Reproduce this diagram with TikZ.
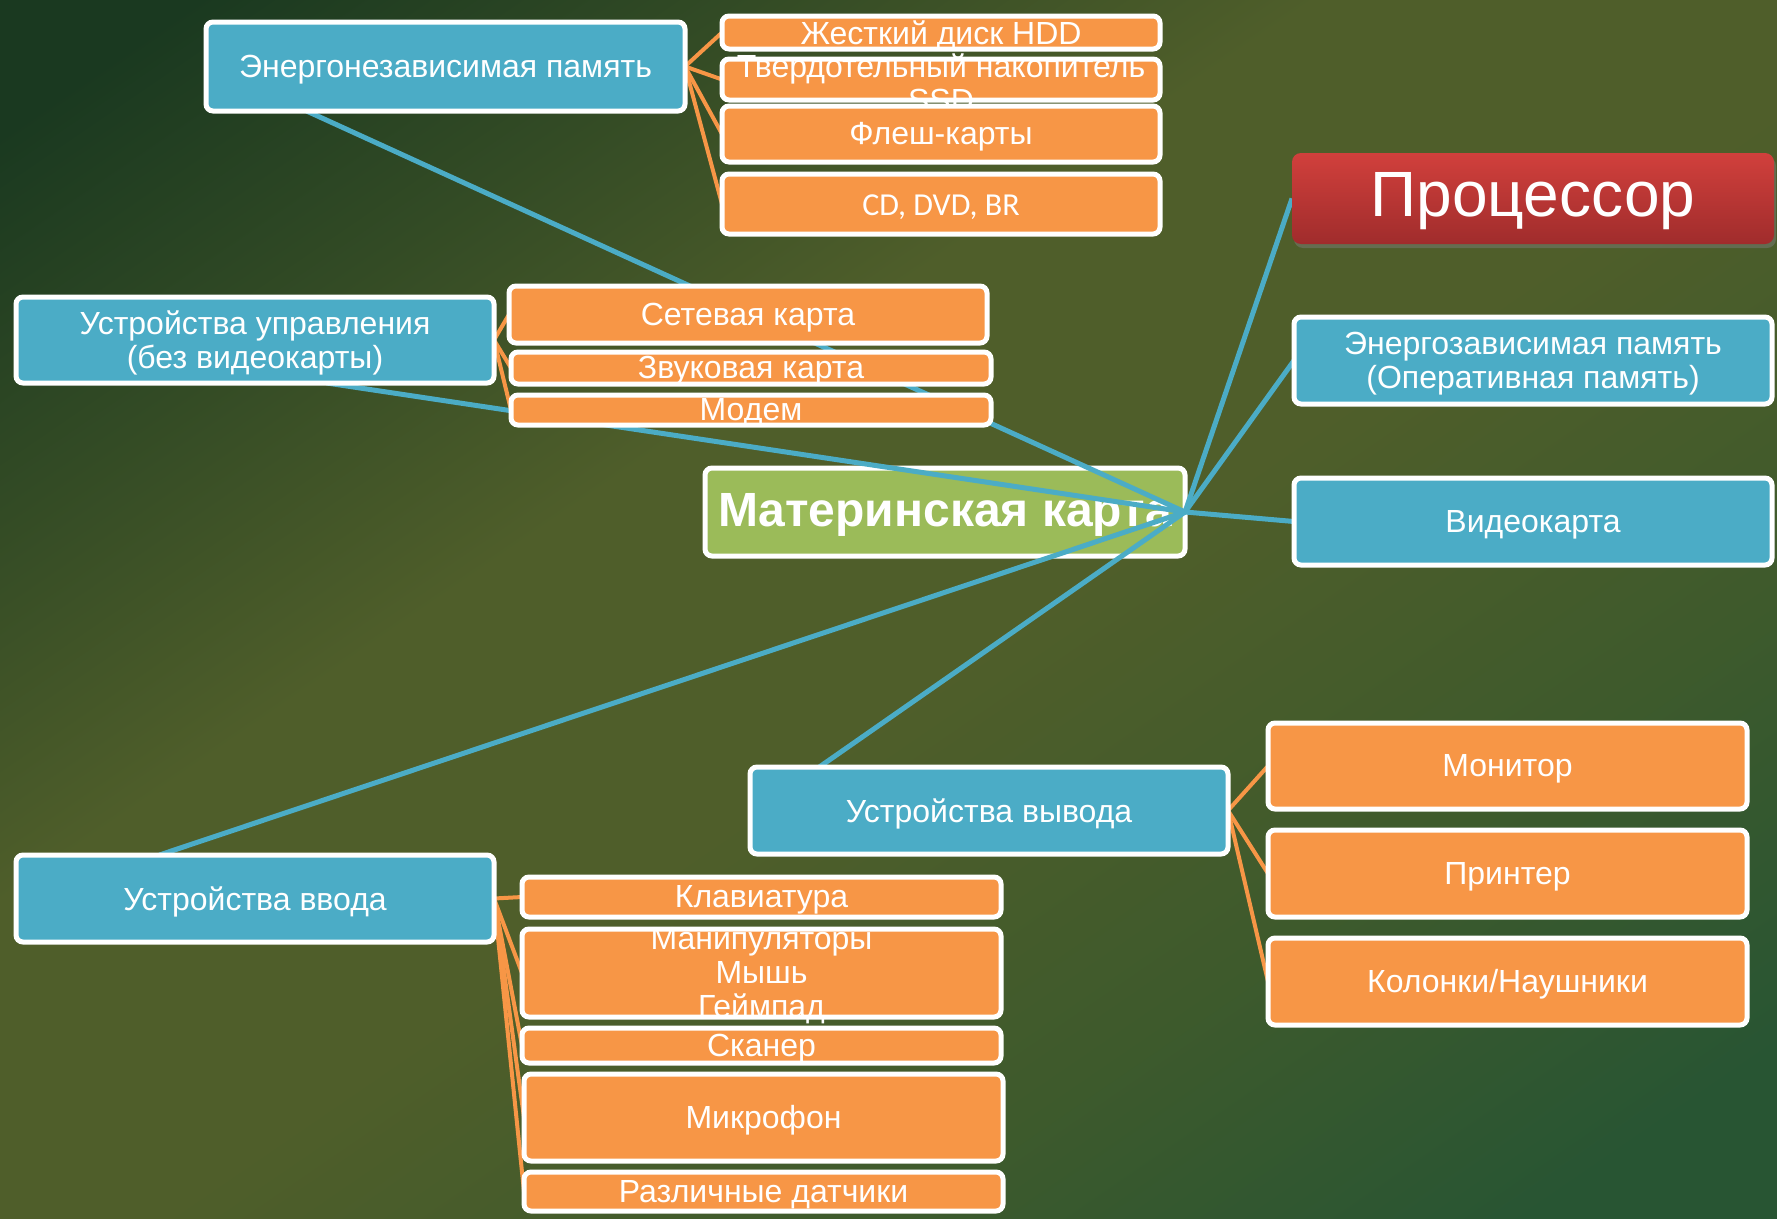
\documentclass[tikz,border=0pt]{standalone}
\usepackage{fontspec}
\setmainfont{Liberation Sans}
\newfontfamily\calfont{Carlito}
\usetikzlibrary{calc,shadows}
\pgfdeclarelayer{bg}
\pgfdeclarelayer{mid}
\pgfsetlayers{bg,mid,main}
\definecolor{bgA}{HTML}{1A3920}
\definecolor{bgAm}{HTML}{334B25}
\definecolor{bgB}{HTML}{4F5E2A}
\definecolor{bgCm}{HTML}{3E5A2C}
\definecolor{bgC}{HTML}{285533}
\definecolor{myblue}{HTML}{4BACC6}
\definecolor{myorange}{HTML}{F79646}
\definecolor{mygreen}{HTML}{9BBB59}
\definecolor{cpuTop}{HTML}{D1403C}
\definecolor{cpuBot}{HTML}{A02C2C}
\pgfdeclareverticalshading{bgshade}{100bp}{color(0bp)=(bgC); color(20bp)=(bgC); color(33bp)=(bgCm); color(47bp)=(bgB); color(59bp)=(bgB); color(70bp)=(bgAm); color(81bp)=(bgA); color(100bp)=(bgA)}
\begin{document}
\begin{tikzpicture}[x=1pt,y=-1pt,
 base/.style={rectangle, rounded corners=7pt, draw=white, line width=5pt, inner sep=0pt, outer sep=0pt},
 bluebox/.style={base, fill=myblue},
 orbox/.style={base, fill=myorange},
 txt/.style={text=white, align=center, inner sep=0pt, draw=none, fill=none, rectangle, yshift=-3pt, font=\fontsize{32}{34}\selectfont},
 bline/.style={draw=myblue, line width=5pt},
 oline/.style={draw=myorange, line width=4pt},
]
\useasboundingbox (0,0) rectangle (1777,1218);
\begin{pgfonlayer}{bg}
\shade[shading=bgshade, shading angle=34.4] (0,0) rectangle (1777,1218);
\node[base, fill=mygreen, minimum width=480, minimum height=88,
  label={[txt, font=\bfseries\fontsize{48}{50}\selectfont]center:Материнская карта}] (mb) at (945,512) {};
\end{pgfonlayer}

% non-volatile memory group
\node[bluebox, minimum width=479, minimum height=89, label={[txt]center:Энергонезависимая память}] (nonvol) at (445.5,66.5) {};
\node[orbox, minimum width=438, minimum height=41, label={[txt]center:{Твердотельный накопитель\\SSD}}] (ssd) at (941,79.5) {};
\node[orbox, minimum width=438, minimum height=33, label={[txt]center:Жесткий диск HDD}] (hdd) at (941,32.5) {};
\node[orbox, minimum width=438, minimum height=56, label={[txt]center:Флеш-карты}] (flash) at (941,134) {};
\node[orbox, minimum width=438, minimum height=60, label={[txt, font=\calfont\fontsize{32}{34}\selectfont]center:{CD, DVD, BR}}] (cd) at (941,204) {};

% right column
\node[rectangle, rounded corners=9pt, inner sep=0pt, outer sep=0pt, top color=cpuTop, bottom color=cpuBot,
  minimum width=482, minimum height=91,
  drop shadow={opacity=0.45, shadow xshift=2pt, shadow yshift=-4pt},
  label={[txt, font=\fontsize{64}{70}\selectfont]center:Процессор}] (cpu) at (1533,198.5) {};
\node[bluebox, minimum width=478, minimum height=87, label={[txt]center:{Энергозависимая память\\(Оперативная память)}}] (ram) at (1533,360.5) {};
\node[bluebox, minimum width=478, minimum height=87, label={[txt]center:Видеокарта}] (video) at (1533,521.5) {};

% control devices group
\node[bluebox, minimum width=478, minimum height=86, label={[txt]center:{Устройства управления\\(без видеокарты)}}] (ctrl) at (255,340) {};
\node[orbox, minimum width=478, minimum height=57, label={[txt]center:Сетевая карта}] (net) at (748,314.5) {};
\node[orbox, minimum width=480, minimum height=32, label={[txt]center:Звуковая карта}] (sound) at (751,368) {};
\node[orbox, minimum width=480, minimum height=30, label={[txt]center:Модем}] (modem) at (751,410) {};

% output devices group
\node[bluebox, minimum width=478, minimum height=87, label={[txt]center:Устройства вывода}] (out) at (989,810.5) {};
\node[orbox, minimum width=479, minimum height=86, label={[txt]center:Монитор}] (monitor) at (1507.5,766) {};
\node[orbox, minimum width=479, minimum height=87, label={[txt]center:Принтер}] (printer) at (1507.5,873.5) {};
\node[orbox, minimum width=479, minimum height=87, label={[txt]center:Колонки/Наушники}] (speakers) at (1507.5,981.5) {};

% input devices group
\node[bluebox, minimum width=478, minimum height=87, label={[txt]center:Устройства ввода}] (in) at (255,898.5) {};
\node[orbox, minimum width=479, minimum height=88, label={[txt]center:{Манипуляторы\\Мышь\\Геймпад}}] (manip) at (761.5,973) {};
\node[orbox, minimum width=479, minimum height=40, label={[txt]center:Клавиатура}] (kbd) at (761.5,897) {};
\node[orbox, minimum width=479, minimum height=35, label={[txt]center:Сканер}] (scan) at (761.5,1045.5) {};
\node[orbox, minimum width=479, minimum height=87, label={[txt]center:Микрофон}] (mic) at (763.5,1117.5) {};
\node[orbox, minimum width=479, minimum height=39, label={[txt]center:Различные датчики}] (sensors) at (763.5,1191.5) {};

% connector end points
\coordinate (nonvolB) at ($(nonvol.south west)!0.21!(nonvol.south east)$);
\coordinate (ctrlB) at ($(ctrl.south west)!0.65!(ctrl.south east)$);
\coordinate (inT) at ($(in.north west)!0.30!(in.north east)$);
\coordinate (outT) at ($(out.north west)!0.145!(out.north east)$);

\begin{pgfonlayer}{mid}
\draw[bline] (mb.east) -- (cpu.west);
\draw[bline] (mb.east) -- (ram.west);
\draw[bline] (mb.east) -- (video.west);
\draw[bline] (mb.east) -- (outT);
\draw[bline] (mb.east) -- (inT);
\draw[bline] (mb.east) -- (ctrlB);
\draw[bline] (mb.east) -- (nonvolB);
\foreach \c in {hdd,ssd,flash,cd} \draw[oline] (nonvol.east) -- (\c.west);
\foreach \c in {net,sound,modem} \draw[oline] (ctrl.east) -- (\c.west);
\foreach \c in {kbd,manip,scan,mic,sensors} \draw[oline] (in.east) -- (\c.west);
\foreach \c in {monitor,printer,speakers} \draw[oline] (out.east) -- (\c.west);
\end{pgfonlayer}
\end{tikzpicture}
\end{document}
